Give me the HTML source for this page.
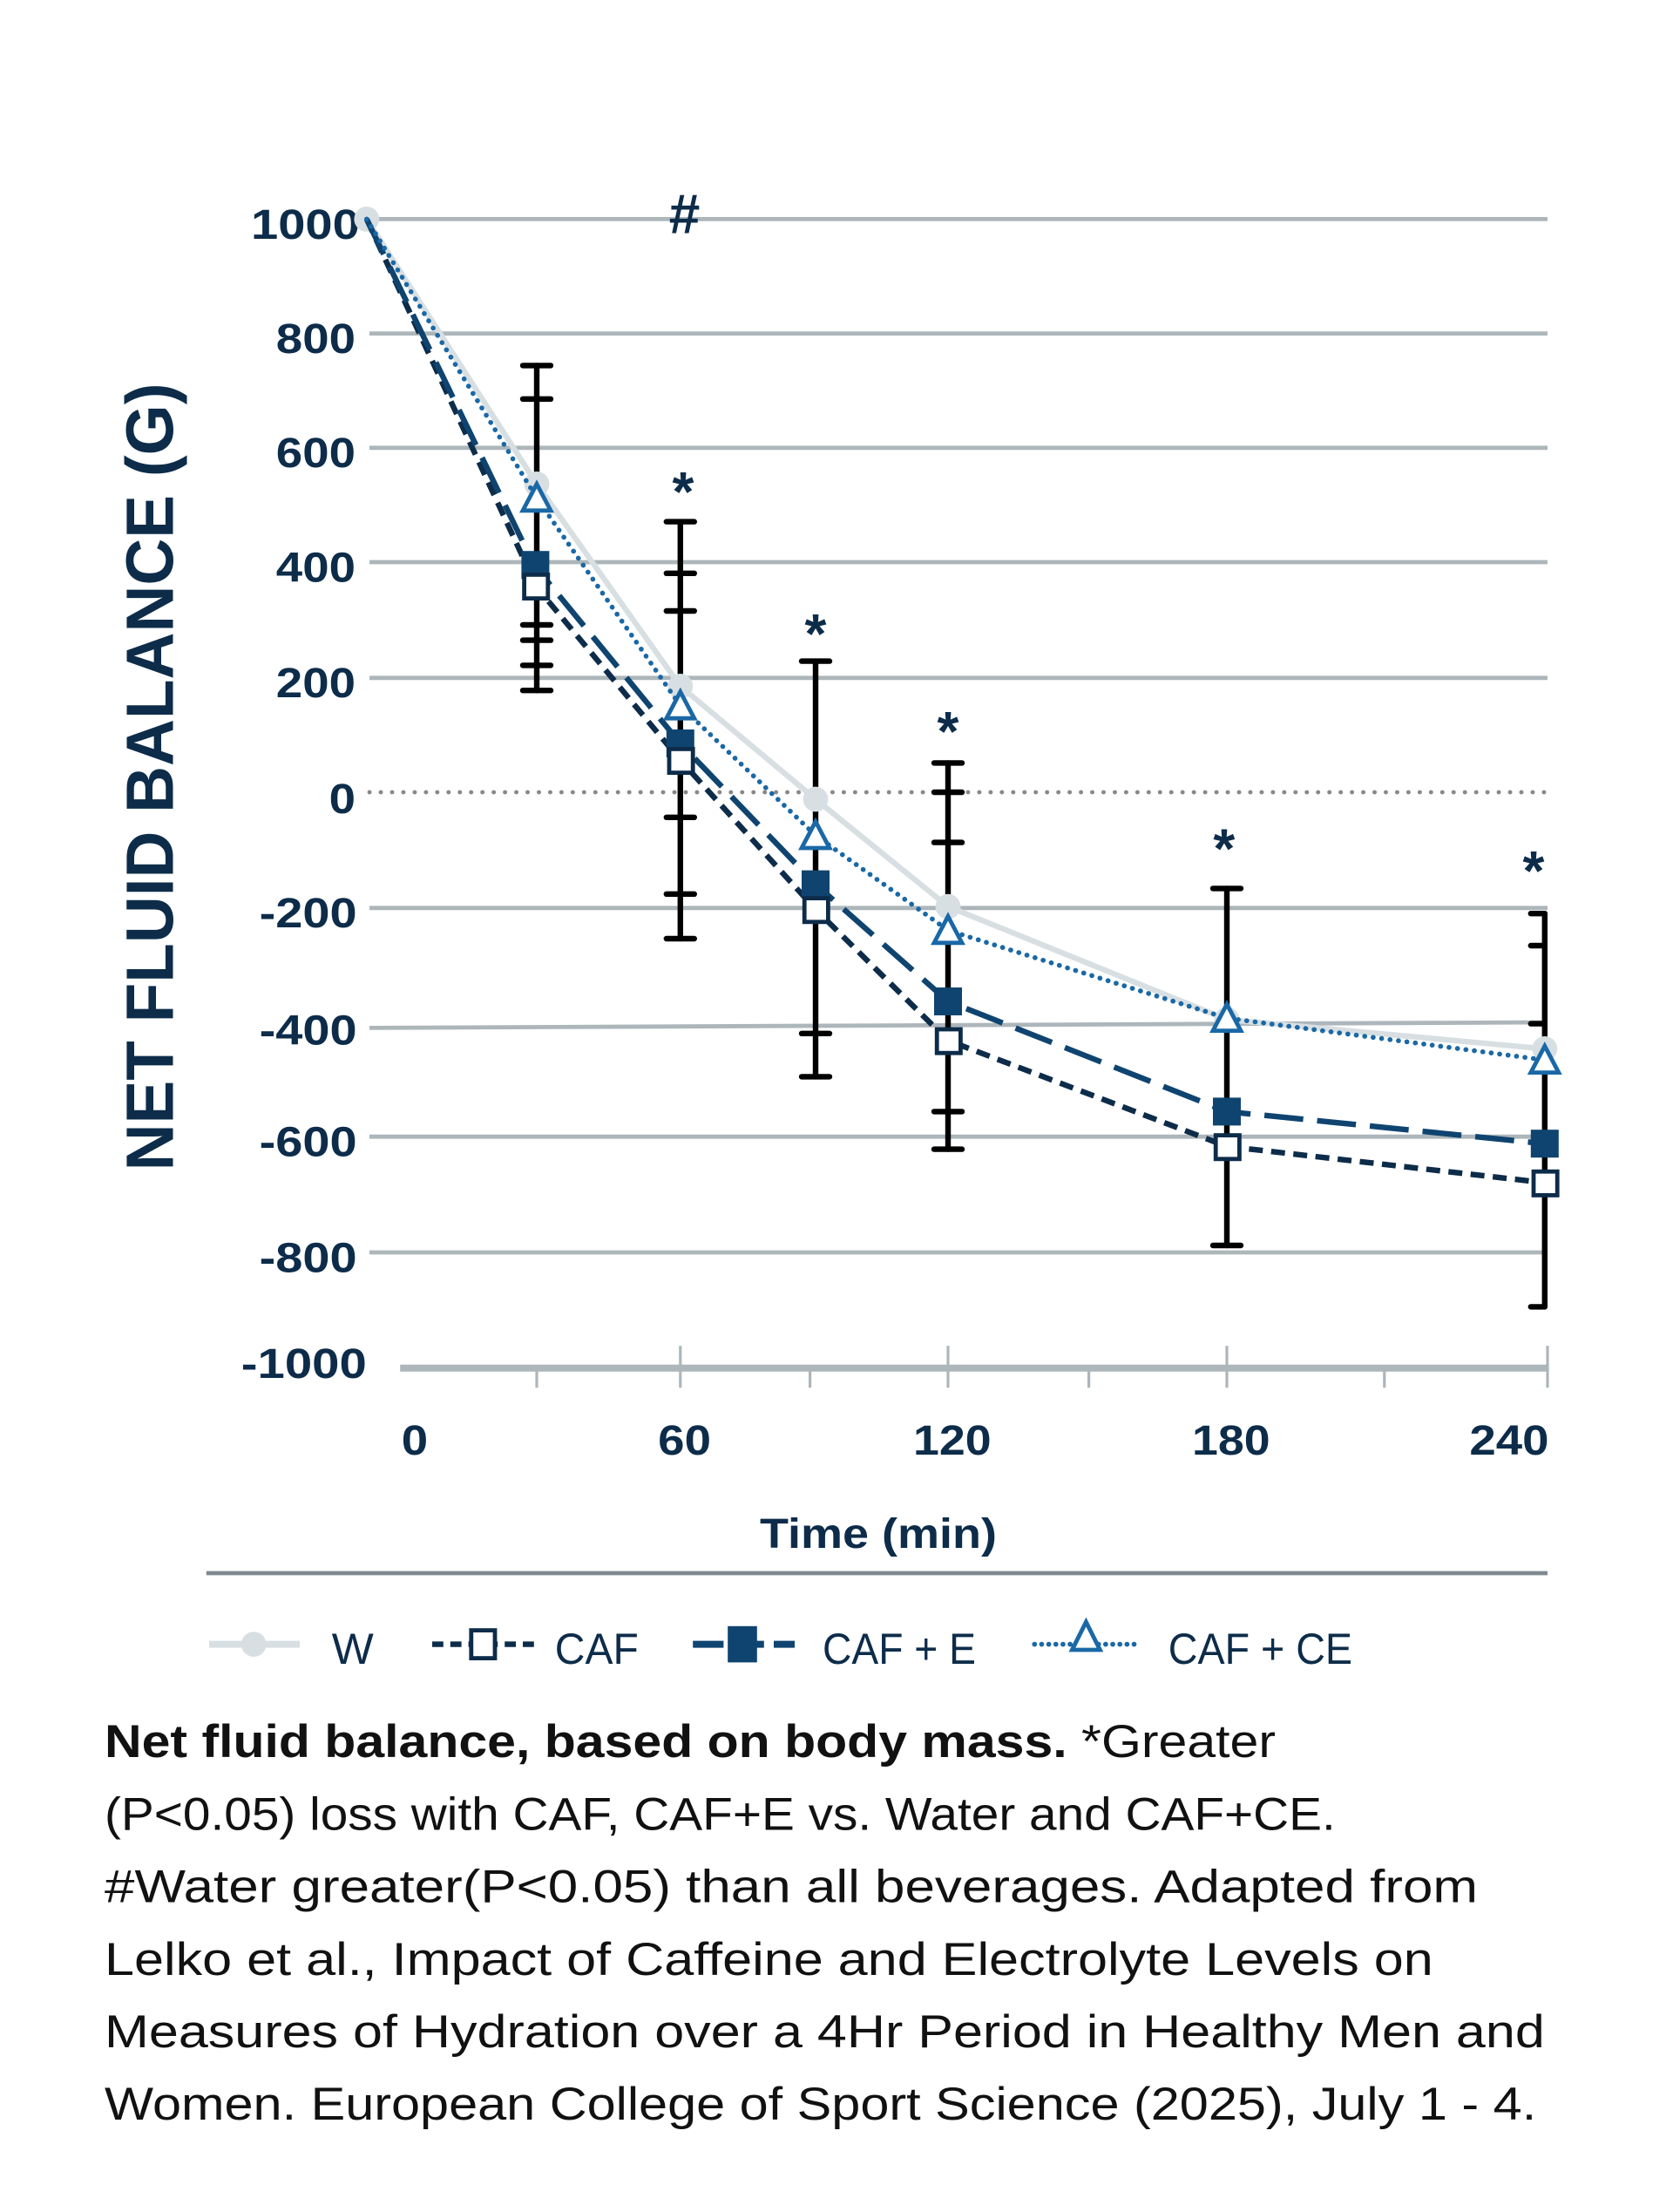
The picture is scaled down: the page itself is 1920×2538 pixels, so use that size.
<!DOCTYPE html>
<html><head><style>
html,body{margin:0;padding:0;background:#fff;}
svg{display:block;}
text{font-family:"Liberation Sans",sans-serif;}
</style></head><body>
<svg width="1920" height="2538" viewBox="0 0 1200 1586" xmlns="http://www.w3.org/2000/svg">
<g stroke="#adb6ba" stroke-width="3">
<line x1="265" y1="157" x2="1110" y2="157"/>
<line x1="265" y1="239" x2="1110" y2="239"/>
<line x1="265" y1="321" x2="1110" y2="321"/>
<line x1="265" y1="403" x2="1110" y2="403"/>
<line x1="265" y1="486" x2="1110" y2="486"/>
<line x1="265" y1="651" x2="1110" y2="651"/>
<line x1="265" y1="737" x2="1110" y2="733"/>
<line x1="265" y1="815" x2="1110" y2="815"/>
<line x1="265" y1="898" x2="1110" y2="898"/>
<line x1="287" y1="981" x2="1110" y2="981" stroke-width="5"/>
</g>
<line x1="265" y1="568" x2="1110" y2="568" stroke="#888" stroke-width="3" stroke-dasharray="0.1 8" stroke-linecap="round"/>
<g stroke="#adb6ba" stroke-width="2">
<line x1="385" y1="981" x2="385" y2="995"/><line x1="488" y1="965" x2="488" y2="995"/>
<line x1="581" y1="981" x2="581" y2="995"/><line x1="680" y1="965" x2="680" y2="995"/>
<line x1="781" y1="981" x2="781" y2="995"/><line x1="880" y1="965" x2="880" y2="995"/>
<line x1="993" y1="981" x2="993" y2="995"/><line x1="1110" y1="965" x2="1110" y2="995"/>
</g>
<g font-size="30" font-weight="bold" fill="#0d2c4a" lengthAdjust="spacingAndGlyphs">
<text x="180" y="171" textLength="78" lengthAdjust="spacingAndGlyphs">1000</text>
<text x="198" y="253" textLength="57" lengthAdjust="spacingAndGlyphs">800</text>
<text x="198" y="335" textLength="57" lengthAdjust="spacingAndGlyphs">600</text>
<text x="198" y="417" textLength="57" lengthAdjust="spacingAndGlyphs">400</text>
<text x="198" y="500" textLength="57" lengthAdjust="spacingAndGlyphs">200</text>
<text x="236" y="583" textLength="19" lengthAdjust="spacingAndGlyphs">0</text>
<text x="186" y="665" textLength="70" lengthAdjust="spacingAndGlyphs">-200</text>
<text x="186" y="749" textLength="70" lengthAdjust="spacingAndGlyphs">-400</text>
<text x="186" y="829" textLength="70" lengthAdjust="spacingAndGlyphs">-600</text>
<text x="186" y="912" textLength="70" lengthAdjust="spacingAndGlyphs">-800</text>
<text x="173" y="988" textLength="90" lengthAdjust="spacingAndGlyphs">-1000</text>
<text x="288" y="1043" textLength="19" lengthAdjust="spacingAndGlyphs">0</text>
<text x="472" y="1043" textLength="38" lengthAdjust="spacingAndGlyphs">60</text>
<text x="655" y="1043" textLength="56" lengthAdjust="spacingAndGlyphs">120</text>
<text x="855" y="1043" textLength="56" lengthAdjust="spacingAndGlyphs">180</text>
<text x="1054" y="1043" textLength="57" lengthAdjust="spacingAndGlyphs">240</text>
<text x="545" y="1110" textLength="170" lengthAdjust="spacingAndGlyphs">Time (min)</text>
</g>
<text transform="translate(124,557) rotate(-90)" font-size="48" font-weight="bold" fill="#0d2c4a" text-anchor="middle" textLength="565" lengthAdjust="spacingAndGlyphs">NET FLUID BALANCE (G)</text>
<g font-size="40" font-weight="bold" fill="#0d2c4a" text-anchor="middle">
<text x="491" y="167">#</text>
<text x="490" y="366">*</text><text x="585" y="468">*</text><text x="680" y="538">*</text>
<text x="878" y="622">*</text><text x="1100" y="638">*</text>
</g>
<g stroke="#000" stroke-width="4" stroke-linecap="round">
<line x1="385" y1="262" x2="385" y2="495"/>
<line x1="375" y1="262" x2="395" y2="262"/><line x1="375" y1="286" x2="395" y2="286"/><line x1="375" y1="448" x2="395" y2="448"/><line x1="375" y1="459" x2="395" y2="459"/><line x1="375" y1="477" x2="395" y2="477"/><line x1="375" y1="495" x2="395" y2="495"/>
<line x1="488" y1="374" x2="488" y2="673"/>
<line x1="478" y1="374" x2="498" y2="374"/><line x1="478" y1="411" x2="498" y2="411"/><line x1="478" y1="438" x2="498" y2="438"/><line x1="478" y1="586" x2="498" y2="586"/><line x1="478" y1="641" x2="498" y2="641"/><line x1="478" y1="673" x2="498" y2="673"/>
<line x1="585" y1="474" x2="585" y2="772"/>
<line x1="575" y1="474" x2="595" y2="474"/><line x1="575" y1="741" x2="595" y2="741"/><line x1="575" y1="772" x2="595" y2="772"/>
<line x1="680" y1="547" x2="680" y2="824"/>
<line x1="670" y1="547" x2="690" y2="547"/><line x1="670" y1="568" x2="690" y2="568"/><line x1="670" y1="604" x2="690" y2="604"/><line x1="670" y1="797" x2="690" y2="797"/><line x1="670" y1="824" x2="690" y2="824"/>
<line x1="880" y1="637" x2="880" y2="893"/>
<line x1="870" y1="637" x2="890" y2="637"/><line x1="870" y1="893" x2="890" y2="893"/>
<line x1="1108" y1="655" x2="1108" y2="937"/>
<line x1="1098" y1="655" x2="1108" y2="655"/><line x1="1098" y1="678" x2="1108" y2="678"/><line x1="1098" y1="734" x2="1108" y2="734"/><line x1="1098" y1="937" x2="1108" y2="937"/>
</g>
<polyline fill="none" stroke="#d8dfe2" stroke-width="4" points="263,157 385,347 488,492 585,573 680,650 880,731 1108,752"/>
<g fill="#d8dfe2"><circle cx="263" cy="157" r="9"/><circle cx="385" cy="347" r="9"/><circle cx="488" cy="492" r="9"/><circle cx="585" cy="573" r="9"/><circle cx="680" cy="650" r="9"/><circle cx="880" cy="731" r="9"/><circle cx="1108" cy="752" r="9"/></g>
<polyline fill="none" stroke="#0d2c4a" stroke-width="4" stroke-dasharray="10 6" points="263,157 385,421 488,545 585,652 680,746 880,822 1108,848"/>
<polyline fill="none" stroke="#0f4470" stroke-width="4" stroke-dasharray="28 10" points="263,157 383,405 488,533 585,634 680,718 880,797 1108,820"/>
<polyline fill="none" stroke="#1a68a6" stroke-width="3.5" stroke-dasharray="0.1 6" stroke-linecap="round" points="263,157 385,357 488,506 585,599 680,667 880,730 1108,760"/>
<g fill="#0f4470"><rect x="374" y="395" width="20" height="20"/><rect x="478" y="523" width="20" height="20"/><rect x="575" y="624" width="20" height="20"/><rect x="670" y="708" width="20" height="20"/><rect x="870" y="787" width="20" height="20"/><rect x="1098" y="810" width="20" height="20"/></g>
<g fill="#fff" stroke="#0d2c4a" stroke-width="3"><rect x="376" y="412" width="17" height="17"/><rect x="480" y="537" width="17" height="17"/><rect x="577" y="644" width="17" height="17"/><rect x="672" y="738" width="17" height="17"/><rect x="872" y="814" width="17" height="17"/><rect x="1100" y="840" width="17" height="17"/></g>
<g fill="#fff" stroke="#1a68a6" stroke-width="3">
<polygon points="385,347 375,366 395,366"/><polygon points="488,496 478,515 498,515"/><polygon points="585,589 575,608 595,608"/><polygon points="680,657 670,676 690,676"/><polygon points="880,720 870,739 890,739"/><polygon points="1108,750 1098,769 1118,769"/></g>
<line x1="148" y1="1128" x2="1110" y2="1128" stroke="#7f8a90" stroke-width="3"/>
<line x1="150" y1="1179" x2="215" y2="1179" stroke="#d8dfe2" stroke-width="5"/><circle cx="182" cy="1179" r="9" fill="#d8dfe2"/>
<text x="238" y="1193" font-size="31" fill="#0d2c4a" textLength="30" lengthAdjust="spacingAndGlyphs">W</text>
<line x1="310" y1="1179" x2="385" y2="1179" stroke="#0d2c4a" stroke-width="4" stroke-dasharray="8 5"/><rect x="338" y="1169" width="17" height="20" fill="#fff" stroke="#0d2c4a" stroke-width="3"/>
<text x="398" y="1193" font-size="31" fill="#0d2c4a" textLength="60" lengthAdjust="spacingAndGlyphs">CAF</text>
<line x1="497" y1="1179" x2="570" y2="1179" stroke="#0f4470" stroke-width="5" stroke-dasharray="22 7"/><rect x="522" y="1166" width="21" height="26" fill="#0f4470"/>
<text x="590" y="1193" font-size="31" fill="#0d2c4a" textLength="110" lengthAdjust="spacingAndGlyphs">CAF + E</text>
<line x1="742" y1="1179" x2="818" y2="1179" stroke="#1a68a6" stroke-width="3.5" stroke-dasharray="0.1 5" stroke-linecap="round"/><polygon points="779,1163 769,1183 789,1183" fill="#fff" stroke="#1a68a6" stroke-width="3"/>
<text x="838" y="1193" font-size="31" fill="#0d2c4a" textLength="132" lengthAdjust="spacingAndGlyphs">CAF + CE</text>
<g font-size="33" fill="#111">
<text x="75" y="1260" textLength="840" lengthAdjust="spacingAndGlyphs"><tspan font-weight="bold">Net fluid balance, based on body mass.</tspan> *Greater</text>
<text x="75" y="1312" textLength="883" lengthAdjust="spacingAndGlyphs">(P&lt;0.05) loss with CAF, CAF+E vs. Water and CAF+CE.</text>
<text x="75" y="1364" textLength="985" lengthAdjust="spacingAndGlyphs">#Water greater(P&lt;0.05) than all beverages. Adapted from</text>
<text x="75" y="1416" textLength="953" lengthAdjust="spacingAndGlyphs">Lelko et al., Impact of Caffeine and Electrolyte Levels on</text>
<text x="75" y="1468" textLength="1033" lengthAdjust="spacingAndGlyphs">Measures of Hydration over a 4Hr Period in Healthy Men and</text>
<text x="75" y="1520" textLength="1027" lengthAdjust="spacingAndGlyphs">Women. European College of Sport Science (2025), July 1 - 4.</text>
</g>
</svg>
</body></html>
